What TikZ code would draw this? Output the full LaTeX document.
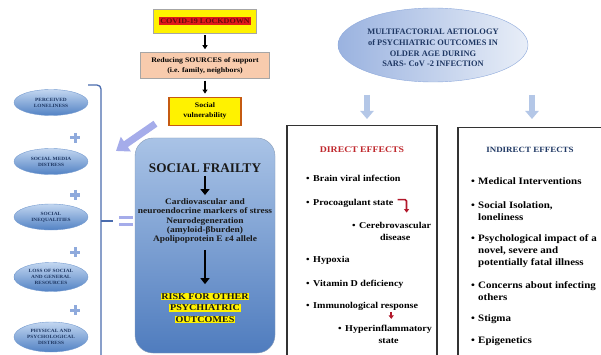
\documentclass[tikz,border=0pt]{standalone}
\usepackage{fontspec}
\setmainfont{Liberation Serif}
\newfontfamily\wideserif[FakeStretch=1.12]{Liberation Serif}
\usetikzlibrary{positioning,arrows.meta,shapes.geometric,calc}

\definecolor{navytxt}{HTML}{1F3864}
\definecolor{lockred}{HTML}{E0191B}
\definecolor{lockink}{HTML}{6A0A0A}
\definecolor{peach}{HTML}{F8CBAD}
\definecolor{vulnedge}{HTML}{C55A11}
\definecolor{frailtop}{HTML}{A9C3E6}
\definecolor{frailbot}{HTML}{4F7CBE}
\definecolor{ovaltop}{HTML}{C2D6F0}
\definecolor{ovalbot}{HTML}{5282C4}
\definecolor{brackblue}{HTML}{4A6CAE}
\definecolor{lavender}{HTML}{A5ACEA}
\definecolor{paleblue}{HTML}{B4C7E7}
\definecolor{plusblue}{HTML}{8FAADC}
\definecolor{crimson}{HTML}{C0282D}
\definecolor{arrowred}{HTML}{B2182B}

\newcommand{\bulitem}[1]{\makebox[7pt][l]{\textbullet}\begin{tabular}[t]{@{}l@{}}#1\end{tabular}}
\newcommand{\bulitemc}[1]{\makebox[7pt][l]{\textbullet}\begin{tabular}[t]{@{}c@{}}#1\end{tabular}}
\newcommand{\yhl}[1]{{\setlength{\fboxsep}{0.8pt}\colorbox{yellow}{#1}}}

\begin{document}
\begin{tikzpicture}[x=1pt, y=-1pt,
  node distance=19pt,
  oval/.style={ellipse, draw=ovalbot!80, top color=ovaltop, bottom color=ovalbot, minimum width=74pt, minimum height=26pt, inner sep=0pt, align=center, text=navytxt, font=\wideserif\fontsize{4.8}{5.9}\selectfont\bfseries},
  topbox/.style={draw=black!35, align=center, inner sep=1pt, font=\wideserif\fontsize{7}{10}\selectfont\bfseries},
  effbox/.style={draw=black!80, line width=1.2pt, fill=white, anchor=north},
  ditem/.style={anchor=base west, inner sep=0pt, font=\wideserif\fontsize{9}{12}\selectfont\bfseries},
  iitem/.style={anchor=base west, inner sep=0pt, font=\wideserif\fontsize{9.8}{12}\selectfont\bfseries},
  smallblk/.style={-{Triangle[length=4pt,width=5pt]}, line width=1.5pt, shorten <=2pt, shorten >=3pt},
  fatblk/.style={-{Triangle[length=6pt,width=9pt]}, line width=2.6pt},
  paleshaft/.style={-{Triangle[length=8pt,width=13pt]}, line width=5.5pt, draw=paleblue},
  redarr/.style={-{Triangle[length=3.5pt,width=5pt]}, line width=1.7pt, draw=arrowred},
  brk/.style={draw=brackblue, line width=1.3pt}
]
\useasboundingbox (0,0) rectangle (601,355);
\clip (0,0) rectangle (601,355);
\fill[white] (0,0) rectangle (601,355);

% top chain
\node[topbox, fill=yellow, minimum width=103pt, minimum height=24pt, font=\wideserif\fontsize{7.2}{9}\selectfont\bfseries] (lock) at (205,21)
  {{\setlength{\fboxsep}{1.5pt}\colorbox{lockred}{\textcolor{lockink}{COVID-19 LOCKDOWN}}}};
\node[topbox, fill=peach, minimum width=129pt, minimum height=26pt, below=of lock] (supp)
  {Reducing SOURCES of support\\(i.e. family, neighbors)};
\node[topbox, fill=yellow, draw=vulnedge, line width=1.1pt, minimum width=72pt, minimum height=28pt, below=18pt of supp] (vuln)
  {Social\\vulnerability};
\draw[smallblk] (lock) -- (supp);
\draw[smallblk] (supp) -- (vuln);

% social frailty panel
\node[draw=frailtop!80!black, top color=frailtop, bottom color=frailbot, rounded corners=18pt, minimum width=140pt, minimum height=215pt] (frail) at (205,245.5) {};
\node[font=\fontsize{13.2}{15}\selectfont\bfseries, text=black!90] (ftitle) at (205,168) {SOCIAL FRAILTY};
\node[font=\wideserif\fontsize{8.4}{9.3}\selectfont\bfseries, align=center, text=black!90] (fmark) at (205,221)
  {Cardiovascular and\\neuroendocrine markers of stress\\Neurodegeneration\\(amyloid-βburden)\\Apolipoprotein E ε4 allele};
\node[font=\wideserif\fontsize{9}{11.5}\selectfont\bfseries, align=center, text=black!90] (frisk) at (205,308)
  {\yhl{RISK FOR OTHER}\\\yhl{PSYCHIATRIC}\\\yhl{OUTCOMES}};
\draw[fatblk] (ftitle) -- (fmark);
\draw[fatblk, shorten <=3pt, shorten >=5pt] (fmark) -- (frisk);

\coordinate (fattip) at (116,151);
\draw[-{Triangle[length=12pt,width=17pt]}, line width=7pt, draw=lavender] ([xshift=-13pt,yshift=2pt]vuln.south west) -- (fattip);

% left factors
\node[oval] (lonely) at (51,102.5) {PERCEIVED\\LONELINESS};
\node[oval] (media) at (51,161.5) {SOCIAL MEDIA\\DISTRESS};
\node[oval] (inequal) at (51,217) {SOCIAL\\INEQUALITIES};
\node[oval, minimum height=29pt] (loss) at (51,277) {LOSS OF SOCIAL\\AND GENERAL\\RESOURCES};
\node[oval, minimum height=30pt] (distress) at (51,337) {PHYSICAL AND\\PSYCHOLOGICAL\\DISTRESS};
\foreach \y in {138,195,252,310}
  \draw[plusblue, line width=3pt] (70,\y) -- (80,\y) (75,\y-5) -- (75,\y+5);

\coordinate (brtop) at (88,85);
\coordinate (brmid) at (101,221);
\draw[brk, rounded corners=4pt] (brtop) -- (101,85) -- (101,360);
\node[minimum width=14pt, minimum height=9pt, inner sep=0pt] (eq) at (126,221) {};
\fill[lavender] (eq.north west) rectangle ([yshift=-3pt]eq.north east);
\fill[lavender] (eq.south west) rectangle ([yshift=3pt]eq.south east);
\draw[brk] (brmid) -- ([xshift=-6pt]eq.west);

% aetiology and effects
\node[ellipse, draw=plusblue, left color=plusblue!90, right color=paleblue!30, minimum width=190pt, minimum height=74pt] (aetio) at (433,45) {};
\node[align=center, text=navytxt, font=\fontsize{8.4}{10.7}\selectfont\bfseries] (aetiotext) at (433,48)
  {MULTIFACTORIAL AETIOLOGY\\of PSYCHIATRIC OUTCOMES IN\\OLDER AGE DURING\\SARS- CoV -2 INFECTION};

\node[effbox, minimum width=150pt, minimum height=250pt] (direct) at (362,125) {};
\node[effbox, minimum width=154pt, minimum height=250pt] (indirect) at (535,127) {};
\draw[paleshaft] ($(direct.north)+(5,-30)$) -- ($(direct.north)+(5,-6)$);
\draw[paleshaft] ($(indirect.north)+(-3,-32)$) -- ($(indirect.north)+(-3,-8)$);

\node[font=\wideserif\fontsize{8.7}{10}\selectfont\bfseries, text=crimson] (dtitle) at (362,150) {DIRECT EFFECTS};
\node[ditem] (brain) at (306,182) {\bulitem{Brain viral infection}};
\node[ditem] (proc) at (306,205) {\bulitem{Procoagulant state}};
\node[ditem] (cereb) at (352,228) {\bulitemc{Cerebrovascular\\disease}};
\node[ditem] (hypox) at (306,262) {\bulitem{Hypoxia}};
\node[ditem] (vitd) at (306,286) {\bulitem{Vitamin D deficiency}};
\node[ditem] (immune) at (306,308) {\bulitem{Immunological response}};
\node[ditem] (hyper) at (338,331) {\bulitemc{Hyperinflammatory\\state}};
\coordinate (procout) at ([xshift=4pt,yshift=3pt]proc.east);
\draw[redarr, rounded corners=1.5pt] (procout) -| ++(9,13);
\coordinate (immout) at ([xshift=-27pt]immune.south east);
\draw[redarr, shorten >=3.5pt] (immout) -- (immout |- hyper.north);

\node[font=\wideserif\fontsize{8}{10}\selectfont\bfseries, text=navytxt] (ititle) at (530,150) {INDIRECT EFFECTS};
\node[iitem] (medic) at (471,185) {\bulitem{Medical Interventions}};
\node[iitem] (isol) at (471,208) {\bulitem{Social Isolation,\\loneliness}};
\node[iitem] (psych) at (471,241) {\bulitem{Psychological impact of a\\novel, severe and\\potentially fatal illness}};
\node[iitem] (concern) at (471,288) {\bulitem{Concerns about infecting\\others}};
\node[iitem] (stigma) at (471,321) {\bulitem{Stigma}};
\node[iitem] (epigen) at (471,343) {\bulitem{Epigenetics}};
\end{tikzpicture}
\end{document}
